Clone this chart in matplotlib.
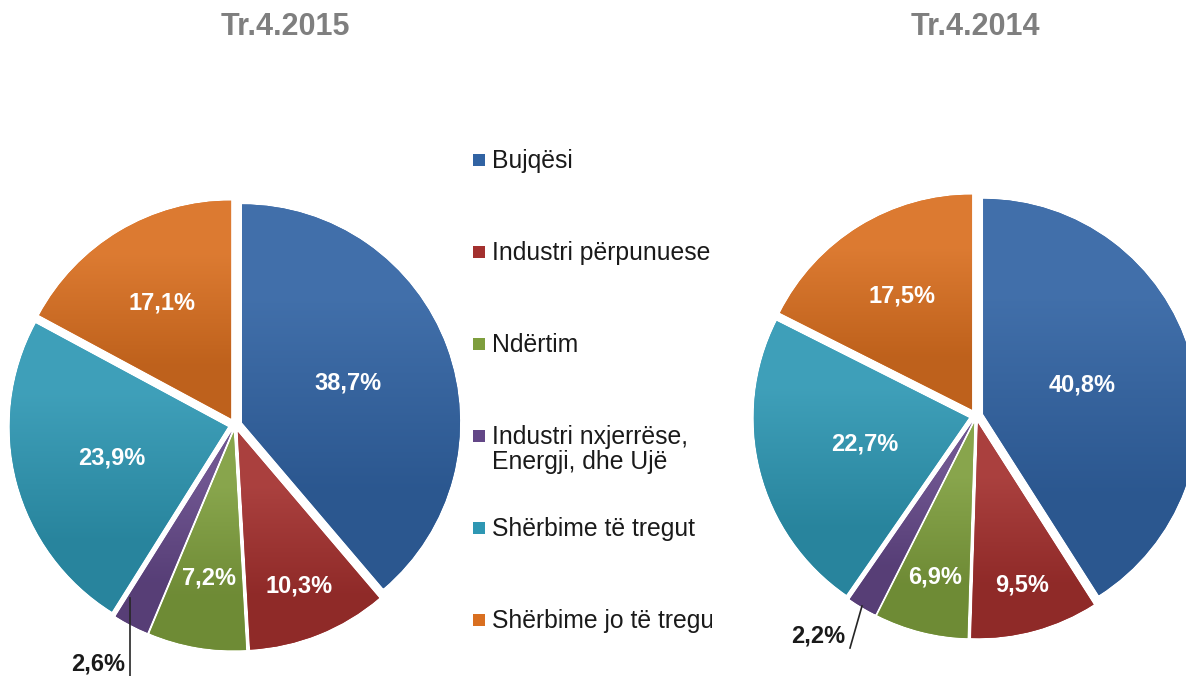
import numpy as np
import matplotlib.pyplot as plt
from matplotlib.colors import to_rgb
from matplotlib.transforms import Bbox, TransformedBbox

plt.rcParams['font.family'] = ['Liberation Sans', 'DejaVu Sans']

# data
categories = ["Bujqësi", "Industri përpunuese", "Ndërtim",
              "Industri nxjerrëse,\nEnergji, dhe Ujë", "Shërbime të tregut",
              "Shërbime jo të tregut"]
titles = ["Tr.4.2015", "Tr.4.2014"]
shares_2015 = [38.7, 10.3, 7.2, 2.6, 23.9, 17.1]
shares_2014 = [40.8, 9.5, 6.9, 2.2, 22.7, 17.5]
colors = ["#3163a3", "#a3302e", "#7e9e3d", "#634787", "#2e97b3", "#d96f20"]

# layout (pixels, y measured from top of picture)
W, H = 1186, 676
GAP = 7.5  # explode offset in pixels
pies = [
    dict(vals=shares_2015, center=(235, 425), r=218, title_x=285,
         dist=[0.52, 0.76, 0.68, None, 0.55, 0.62],
         out_txt=(125, 664), out_line=[(130, 598), (130, 676)]),
    dict(vals=shares_2014, center=(976, 416), r=215, title_x=975,
         dist=[0.48, 0.78, 0.74, None, 0.50, 0.62],
         out_txt=(845, 636), out_line=[(862, 606), (850, 648)]),
]

fig = plt.figure(figsize=(W / 100, H / 100), dpi=100)
ax = fig.add_axes([0, 0, 1, 1])
ax.set_xlim(0, W)
ax.set_ylim(0, H)
ax.set_autoscale_on(False)
ax.axis("off")


def shade(c, f):
    rgb = np.array(to_rgb(c))
    if f > 1:
        return tuple(rgb + (1 - rgb) * (f - 1))
    return tuple(rgb * f)


for k, p in enumerate(pies):
    cx, cy = p["center"][0], H - p["center"][1]
    wedges, _ = ax.pie(p["vals"], colors=colors, startangle=90, counterclock=False,
                       explode=[GAP] * 6, radius=p["r"], center=(cx, cy),
                       wedgeprops=dict(linewidth=0), frame=True)
    for i, w in enumerate(wedges):
        # vertical gradient inside each slice
        th = np.radians(np.linspace(w.theta1, w.theta2, 60))
        wx, wy = w.center
        xs = np.r_[wx, wx + w.r * np.cos(th)]
        ys = np.r_[wy, wy + w.r * np.sin(th)]
        top, bot = shade(colors[i], 1.08), shade(colors[i], 0.88)
        grad = np.array([[top], [bot]])
        im = ax.imshow(grad, extent=(xs.min(), xs.max(), ys.min(), ys.max()),
                       aspect="auto", interpolation="bilinear", zorder=2, origin="upper")
        im.set_clip_path(w)

        mid = np.radians((w.theta1 + w.theta2) / 2)
        pct = f"{p['vals'][i]:.1f}".replace(".", ",") + "%"
        d = p["dist"][i]
        if d is not None:
            ax.text(wx + d * w.r * np.cos(mid), wy + d * w.r * np.sin(mid), pct,
                    color="white", fontsize=17, fontweight="bold",
                    ha="center", va="center", zorder=4)
        else:
            (sx, sy), (ex, ey) = p["out_line"]
            ax.plot([sx, ex], [H - sy, H - ey], color="#262626", lw=1.2, zorder=4)
            ax.text(p["out_txt"][0], H - p["out_txt"][1], pct, color="#1a1a1a",
                    fontsize=17, fontweight="bold", ha="right", va="center", zorder=4)
    ax.text(p["title_x"], H - 27, titles[k], color="#7f7f7f",
            fontsize=22, fontweight="bold", ha="center", va="center")

# legend in the middle, clipped on its right side like the original
clip = TransformedBbox(Bbox([[465, 0], [712, H]]), ax.transData)
for i, (lab, col) in enumerate(zip(categories, colors)):
    y = H - (160 + i * 92)
    ax.bar(479, 12, width=12, bottom=y - 6, color=col, zorder=3)
    t = ax.text(492, y + 11, lab, fontsize=17.8, color="#1a1a1a", ha="left", va="top",
                linespacing=1.05, zorder=3)
    t.set_clip_box(clip)
    t.set_clip_on(True)

ax.set_xlim(0, W)
ax.set_ylim(0, H)
fig.savefig("out.png", dpi=100)
